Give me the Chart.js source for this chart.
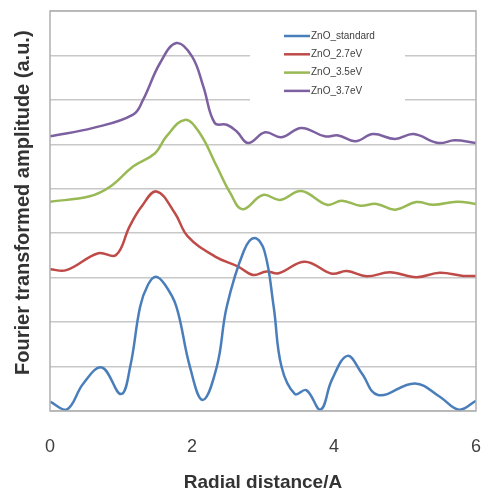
<!DOCTYPE html>
<html>
<head>
<meta charset="utf-8">
<script src="https://cdn.jsdelivr.net/npm/chart.js@4"></script>
<style>
  html, body { margin: 0; padding: 0; background: #fff; }
  #wrap { width: 481px; height: 494px; }
</style>
</head>
<body>
<div id="wrap"><canvas id="ftChart" width="481" height="494"></canvas></div>
<script>
// series names
const seriesNames = ['ZnO_standard', 'ZnO_2.7eV', 'ZnO_3.5eV', 'ZnO_3.7eV'];
const seriesColors = ['#4a7ebb', '#be4b48', '#98b954', '#7d60a0'];

// ZnO_standard
const stdX = [0, 0.235, 0.47, 0.73, 1.0, 1.13, 1.27, 1.38, 1.49, 1.62, 1.78, 1.97, 2.15, 2.35, 2.49, 2.73, 2.88, 3.02, 3.15, 3.26, 3.45, 3.61, 3.81, 3.97, 4.19, 4.39, 4.62, 5.14, 5.49, 5.76, 6.0];
const stdY = [0.21, 0.03, 0.62, 0.98, 0.38, 1.0, 2.35, 2.84, 3.02, 2.84, 2.35, 1.0, 0.25, 1.0, 2.35, 3.6, 3.89, 3.6, 2.35, 1.0, 0.38, 0.47, 0.03, 0.70, 1.24, 0.85, 0.36, 0.62, 0.32, 0.03, 0.23];

// ZnO_2.7eV
const ev27X = [0, 0.23, 0.68, 0.93, 1.12, 1.29, 1.50, 1.76, 1.94, 2.32, 2.65, 2.86, 3.05, 3.22, 3.59, 3.97, 4.18, 4.46, 4.79, 5.16, 5.49, 5.82, 6.0];
const ev27Y = [3.19, 3.17, 3.55, 3.51, 4.15, 4.6, 4.94, 4.45, 3.93, 3.48, 3.25, 3.06, 3.14, 3.10, 3.36, 3.09, 3.15, 3.03, 3.12, 3.01, 3.11, 3.04, 3.04];

// ZnO_3.5eV
const ev35X = [0, 0.56, 0.85, 1.17, 1.48, 1.64, 1.90, 2.11, 2.35, 2.54, 2.71, 3.0, 3.24, 3.54, 3.90, 4.11, 4.37, 4.60, 4.86, 5.16, 5.40, 5.73, 6.0];
const ev35Y = [4.71, 4.83, 5.05, 5.50, 5.80, 6.18, 6.55, 6.25, 5.50, 4.90, 4.54, 4.86, 4.75, 4.95, 4.64, 4.73, 4.62, 4.66, 4.53, 4.70, 4.64, 4.71, 4.66];

// ZnO_3.7eV
const ev37X = [0, 0.61, 1.17, 1.31, 1.55, 1.78, 2.0, 2.16, 2.32, 2.49, 2.63, 2.79, 3.03, 3.26, 3.54, 3.87, 4.06, 4.30, 4.55, 4.86, 5.12, 5.47, 5.70, 6.0];
const ev37Y = [6.18, 6.37, 6.67, 7.0, 7.83, 8.28, 7.98, 7.30, 6.48, 6.44, 6.29, 6.03, 6.27, 6.16, 6.37, 6.18, 6.20, 6.07, 6.23, 6.12, 6.23, 6.03, 6.09, 6.03];

const allX = [stdX, ev27X, ev35X, ev37X];
const allY = [stdY, ev27Y, ev35Y, ev37Y];

function toPoints(xs, ys) {
    return xs.map((x, i) => ({ x: x, y: ys[i] }));
}

// caja del area del grafico + leyenda dentro
const framePlugin = {
    id: 'frame',
    afterDraw(chart) {
        const { ctx, chartArea: a } = chart;
        ctx.save();
        ctx.strokeStyle = '#b0b0b0';
        ctx.lineWidth = 1.5;
        ctx.strokeRect(a.left, a.top, a.right - a.left, a.bottom - a.top);

        // leyenda
        ctx.fillStyle = '#ffffff';
        ctx.fillRect(250, 22, 155, 82);
        ctx.font = '10px "Liberation Sans"';
        ctx.textBaseline = 'middle';
        chart.data.datasets.forEach((ds, i) => {
            const y = 36 + i * 18.3;
            ctx.strokeStyle = ds.borderColor;
            ctx.lineWidth = 2.5;
            ctx.beginPath();
            ctx.moveTo(284, y);
            ctx.lineTo(310, y);
            ctx.stroke();
            ctx.fillStyle = '#404040';
            ctx.fillText(ds.label, 311, y);
        });
        ctx.restore();
    }
};

const ctx = document.getElementById('ftChart');
new Chart(ctx, {
    type: 'line',
    data: {
        datasets: seriesNames.map((name, i) => ({
            label: name,
            data: toPoints(allX[i], allY[i]),
            borderColor: seriesColors[i],
            backgroundColor: seriesColors[i],
            borderWidth: 2.5,
            pointRadius: 0,
            tension: 0.4,
            fill: false
        }))
    },
    options: {
        responsive: false,
        animation: false,
        layout: {
            padding: { top: 11, right: 5, left: 0, bottom: 0 }
        },
        plugins: {
            legend: { display: false },
            tooltip: { enabled: false }
        },
        scales: {
            x: {
                type: 'linear',
                min: 0,
                max: 6,
                ticks: {
                    stepSize: 2,
                    color: '#404040',
                    padding: 25,
                    font: { size: 18, family: '"Liberation Sans"' }
                },
                grid: { display: false, drawTicks: false },
                border: { display: false },
                title: {
                    display: true,
                    text: 'Radial distance/A',
                    color: '#333',
                    padding: { top: 4, bottom: 0 },
                    font: { size: 19, weight: 'bold', family: '"Liberation Sans"' }
                },
                afterFit(scale) {
                    scale.height = 83;
                    scale.paddingLeft = 0;
                    scale.paddingRight = 0;
                }
            },
            y: {
                min: 0,
                max: 9,
                ticks: { display: false, stepSize: 1 },
                grid: { color: '#c8c8c8', lineWidth: 1.5, drawTicks: false },
                border: { display: false },
                title: {
                    display: true,
                    text: '   Fourier transformed amplitude (a.u.)',
                    color: '#333',
                    padding: { top: 11, bottom: 0 },
                    font: { size: 20, weight: 'bold', family: '"Liberation Sans"' }
                },
                afterFit(scale) { scale.width = 50; }
            }
        }
    },
    plugins: [framePlugin]
});
</script>
</body>
</html>
